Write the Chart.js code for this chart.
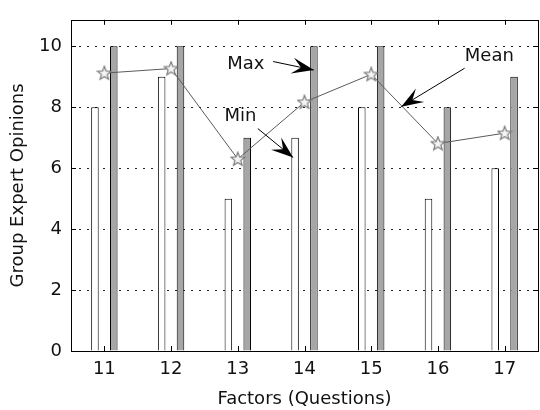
<!DOCTYPE html>
<html>
<head>
<meta charset="utf-8">
<script src="https://cdn.jsdelivr.net/npm/chart.js@4/dist/chart.umd.min.js"></script>
<style>
html, body { margin: 0; padding: 0; background: #fff; overflow: hidden; }
#wrap { width: 540px; height: 410px; overflow: hidden; }
</style>
</head>
<body>
<div id="wrap"><canvas id="chart" width="546" height="410"></canvas></div>
<script>
// values
var factors = ['11', '12', '13', '14', '15', '16', '17'];
var minOpinions = [8, 9, 5, 7, 8, 5, 6];
var maxOpinions = [10, 10, 7, 10, 10, 8, 9];
var meanOpinions = [9.12, 9.27, 6.3, 8.17, 9.08, 6.81, 7.15];
var yTicks = [0, 2, 4, 6, 8, 10];

var FONT = { family: 'DejaVu Sans', size: 18 };
var INK = '#111';

// arrows + labels, in data coordinates (x = factor number)
var notes = [
    { text: 'Max', x: 13.12, y: 9.41, from: [13.53, 9.50], to: [14.14, 9.22] },
    { text: 'Min', x: 13.04, y: 7.69, from: [13.30, 7.30], to: [13.83, 6.35] },
    { text: 'Mean', x: 16.77, y: 9.68, from: [16.40, 9.28], to: [15.45, 8.02] }
];

// hollow pentagram marker like matlab's 'p'
function starMarker() {
    var c = document.createElement('canvas');
    c.width = 16; c.height = 16;
    var g = c.getContext('2d');
    g.beginPath();
    for (var i = 0; i < 10; i++) {
        var r = i % 2 === 0 ? 7.2 : 3.1;
        var a = -Math.PI / 2 + i * Math.PI / 5;
        var px = 8 + r * Math.cos(a), py = 8.4 + r * Math.sin(a);
        if (i === 0) g.moveTo(px, py); else g.lineTo(px, py);
    }
    g.closePath();
    g.fillStyle = '#f4f4f4';
    g.fill();
    g.strokeStyle = '#7a7a7a';
    g.lineWidth = 1.2;
    g.stroke();
    return c;
}

function arrowHead(ctx, x0, y0, x1, y1) {
    var ang = Math.atan2(y1 - y0, x1 - x0);
    var len = 22, half = 8, notch = 13;
    ctx.save();
    ctx.translate(x1, y1);
    ctx.rotate(ang);
    ctx.beginPath();
    ctx.moveTo(0, 0);
    ctx.lineTo(-len, -half);
    ctx.lineTo(-notch, 0);
    ctx.lineTo(-len, half);
    ctx.closePath();
    ctx.fillStyle = '#000';
    ctx.fill();
    ctx.restore();
}

var frameAndNotes = {
    id: 'frameAndNotes',
    afterDraw: function (chart) {
        var ctx = chart.ctx, a = chart.chartArea;
        var xs = chart.scales.x, ys = chart.scales.y;
        ctx.save();
        ctx.strokeStyle = '#000';
        ctx.lineWidth = 1;
        ctx.strokeRect(Math.round(a.left) + 0.5, Math.round(a.top) + 0.5,
            Math.round(a.right - a.left), Math.round(a.bottom - a.top));
        // inward tick marks
        ctx.beginPath();
        factors.forEach(function (f, i) {
            var px = Math.round(xs.getPixelForValue(i)) + 0.5;
            ctx.moveTo(px, a.bottom); ctx.lineTo(px, a.bottom - 5);
            ctx.moveTo(px, a.top); ctx.lineTo(px, a.top + 5);
        });
        yTicks.forEach(function (v) {
            var py = Math.round(ys.getPixelForValue(v)) + 0.5;
            ctx.moveTo(a.left, py); ctx.lineTo(a.left + 5, py);
            ctx.moveTo(a.right, py); ctx.lineTo(a.right - 5, py);
        });
        ctx.stroke();

        ctx.font = FONT.size + 'px "' + FONT.family + '"';
        ctx.fillStyle = INK;
        ctx.textAlign = 'center';
        ctx.textBaseline = 'middle';
        notes.forEach(function (n) {
            var x0 = xs.getPixelForValue(n.from[0] - 11), y0 = ys.getPixelForValue(n.from[1]);
            var x1 = xs.getPixelForValue(n.to[0] - 11), y1 = ys.getPixelForValue(n.to[1]);
            ctx.fillText(n.text, xs.getPixelForValue(n.x - 11), ys.getPixelForValue(n.y));
            ctx.beginPath();
            ctx.moveTo(x0, y0);
            ctx.lineTo(x1, y1);
            ctx.strokeStyle = '#000';
            ctx.stroke();
            arrowHead(ctx, x0, y0, x1, y1);
        });
        ctx.restore();
    }
};

var ctx = document.getElementById('chart');
new Chart(ctx, {
    type: 'bar',
    data: {
        labels: factors,
        datasets: [{
            label: 'Min',
            data: minOpinions,
            backgroundColor: '#ffffff',
            borderColor: '#000',
            borderWidth: 1,
            order: 1
        }, {
            label: 'Max',
            data: maxOpinions,
            backgroundColor: '#a6a6a6',
            borderColor: '#000',
            borderWidth: 1,
            order: 1
        }, {
            type: 'line',
            label: 'Mean',
            data: meanOpinions,
            borderColor: '#5a5a5a',
            borderWidth: 1,
            pointStyle: starMarker(),
            pointRadius: 7,
            fill: false,
            tension: 0,
            order: 0
        }]
    },
    options: {
        responsive: false,
        animation: false,
        devicePixelRatio: 1,
        layout: { padding: { left: 0, top: 7, right: 4, bottom: 0 } },
        plugins: { legend: { display: false }, tooltip: { enabled: false } },
        datasets: { bar: { categoryPercentage: 0.565, barPercentage: 0.4 } },
        scales: {
            x: {
                offset: true,
                grid: { display: false, drawTicks: false },
                border: { display: false },
                ticks: { font: FONT, color: INK, padding: 8, maxRotation: 0 },
                title: { display: true, text: 'Factors (Questions)', font: FONT, color: INK, padding: { top: 0, bottom: 0 } },
                afterFit: function (s) { s.height = 59; }
            },
            y: {
                min: 0,
                max: 10.87,
                afterBuildTicks: function (s) { s.ticks = yTicks.map(function (v) { return { value: v }; }); },
                grid: { color: '#222', lineWidth: 1, borderDash: [2, 6], drawTicks: false },
                border: { display: false, dash: [2, 6] },
                ticks: { font: FONT, color: INK, padding: 9 },
                title: { display: true, text: 'Group Expert Opinions', font: FONT, color: INK, padding: { top: 8, bottom: 0 } },
                afterFit: function (s) { s.width = 71; }
            }
        }
    },
    plugins: [frameAndNotes]
});
</script>
</body>
</html>
